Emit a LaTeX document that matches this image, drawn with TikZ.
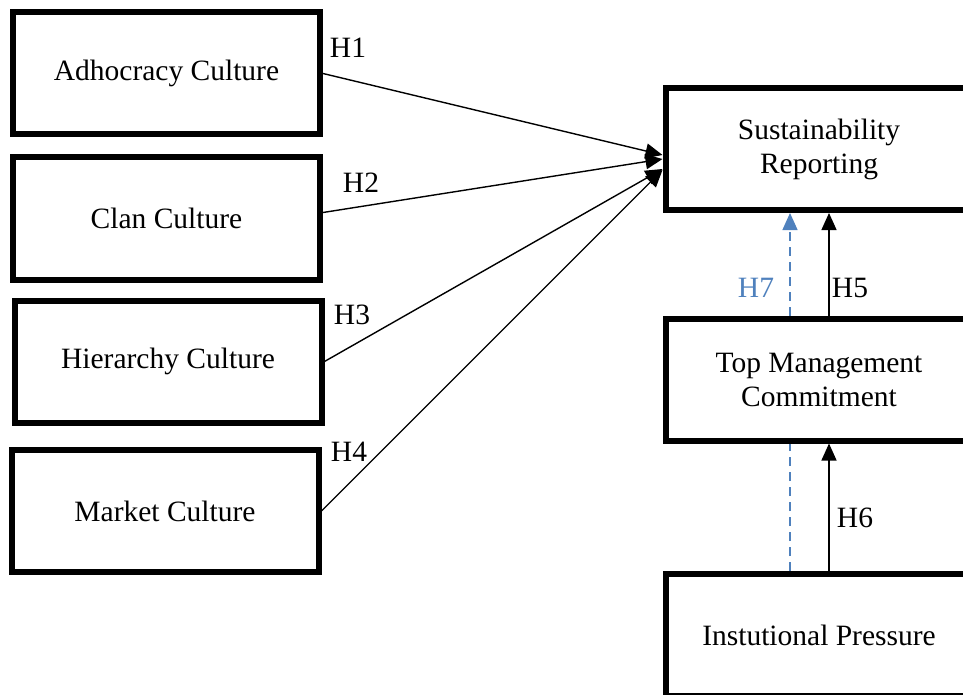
\documentclass[tikz,border=0pt]{standalone}
\usepackage{fontspec}
\setmainfont{Liberation Serif}
\usepackage{xcolor}
\definecolor{mediator}{HTML}{4F81BD}
\usepackage{tikz}
\usetikzlibrary{arrows.meta, positioning, calc}

\begin{document}
\begin{tikzpicture}[x=1pt, y=-1pt, >={Triangle[length=17pt, width=15pt]},
  box/.style={draw=black, fill=white, line width=6pt,
        minimum width=307pt, minimum height=122pt, align=center,
        inner sep=0pt, font=\fontsize{29.5}{34}\selectfont},
  hyp/.style={font=\fontsize{29.5}{34}\selectfont, inner sep=0pt},
  link/.style={line width=1.4pt}]
  \useasboundingbox (0,0) rectangle (963,695);
  \clip (0,0) rectangle (963,695);

  % culture types
  \node[box] (adhocracy) at (166.5,73.5) {Adhocracy Culture};
  \node[box] (clan) at (166.5,218.5) {Clan Culture};
  \node[box] (hierarchy) at (168,361.5) {Hierarchy Culture};
  \node[box] (market) at (165,511) {Market Culture};

  % outcome and drivers
  \node[box] (reporting) at (819,149) {Sustainability\\Reporting};
  \node[box] (commitment) at (819,379.5) {Top Management\\Commitment};
  \node[box] (pressure) at (819,635) {Instutional Pressure};

  \draw[->, link] (adhocracy.east) -- ([yshift=-6pt]reporting.west);
  \draw[->, link] ([yshift=6pt]clan.east) -- ([yshift=-10pt]reporting.west);
  \draw[->, link] (hierarchy.east) -- ([yshift=-20pt]reporting.west);
  \draw[->, link] (market.east) -- ([yshift=-21pt]reporting.west);

  \node[hyp] (h1) at (348,48) {H1};
  \node[hyp] (h2) at (361,183) {H2};
  \node[hyp] (h3) at (352,315) {H3};
  \node[hyp] (h4) at (349,452) {H4};

  % direct paths
  \draw[->, link] ([xshift=10pt]commitment.north) -- ([xshift=10pt]reporting.south);
  \draw[->, link] ([xshift=10pt]pressure.north) -- ([xshift=10pt]commitment.south);

  % mediated path, hidden behind the middle box
  \draw[link, mediator, dash pattern=on 9pt off 6pt]
    ([xshift=-29pt]pressure.north) -- ([xshift=-29pt]commitment.south);
  \draw[->, link, mediator, dash pattern=on 9pt off 6pt]
    ([xshift=-29pt]commitment.north) -- ([xshift=-29pt]reporting.south);

  \node[hyp] (h5) at (850,288) {H5};
  \node[hyp] (h6) at (855,518) {H6};
  \node[hyp, text=mediator] (h7) at (756,288) {H7};
\end{tikzpicture}
\end{document}
